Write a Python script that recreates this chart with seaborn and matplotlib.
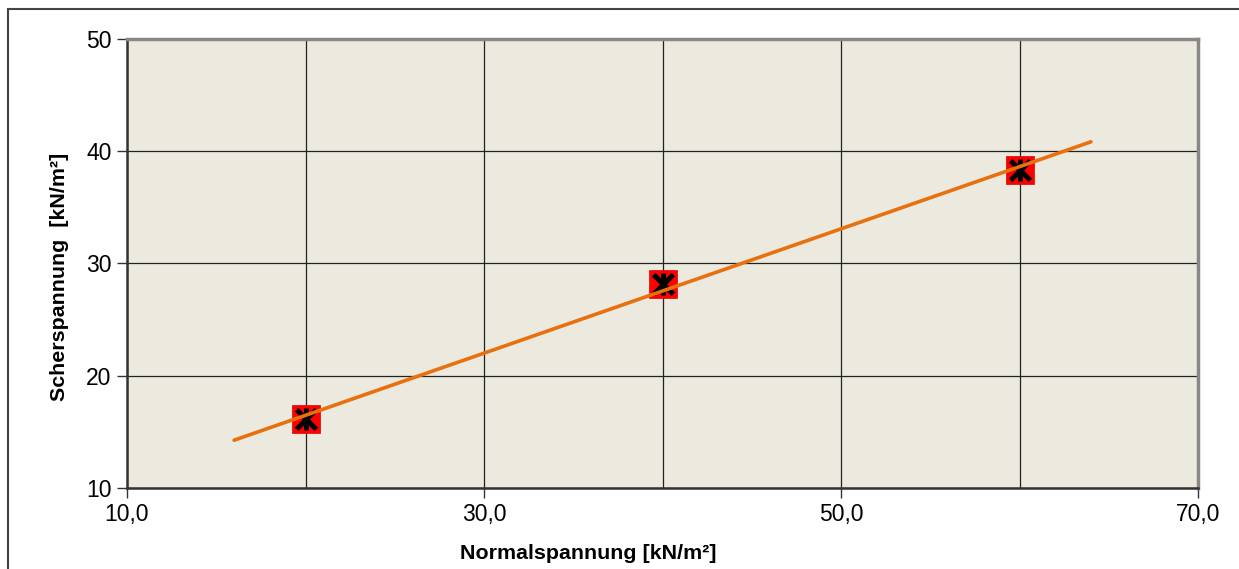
import numpy as np
import pandas as pd
import seaborn as sns
import matplotlib.pyplot as plt
from matplotlib.patches import Rectangle
from matplotlib.ticker import FuncFormatter

# Messwerte (Normalspannung / Scherspannung)
normalspannung = [20, 40, 60]
scherspannung = [16.15, 28.2, 38.3]

# Trendlinie: Bereich der Linie
trend_x = [16, 64]

x_ticks = [10, 30, 50, 70]
y_ticks = [10, 20, 30, 40, 50]

sns.set_theme(style="white")
plt.rcParams['font.family'] = ['Liberation Sans', 'DejaVu Sans']

df = pd.DataFrame({"sigma": normalspannung, "tau": scherspannung})
k, d = np.polyfit(df["sigma"], df["tau"], 1)
df_trend = pd.DataFrame({"sigma": trend_x, "tau": [k * x + d for x in trend_x]})

fig = plt.figure(figsize=(12.39, 5.69), dpi=100)
ax = fig.add_axes([127 / 1239, 1 - 488 / 569, (1198 - 127) / 1239, (488 - 39) / 569])
ax.set_facecolor("#ECE9DF")

# Rahmen um das Diagramm
fig.patches.append(Rectangle((8 / 1239, -0.1), 1.2, 1 - 9 / 569 + 0.1,
                             transform=fig.transFigure, fill=False,
                             edgecolor="#444444", linewidth=1.5))

sns.scatterplot(data=df, x="sigma", y="tau", marker="s", s=380, color="#FF0000",
                edgecolor="#DD0000", linewidth=0.5, ax=ax, zorder=3)
sns.scatterplot(data=df, x="sigma", y="tau", marker="x", s=200, color="black",
                linewidth=3.6, ax=ax, zorder=4)
sns.scatterplot(data=df, x="sigma", y="tau", marker="|", s=230, color="black",
                linewidth=3.6, ax=ax, zorder=4)
sns.lineplot(data=df_trend, x="sigma", y="tau", color="#E8700F", linewidth=2.6,
             ax=ax, zorder=5)

ax.set_xlim(10, 70)
ax.set_ylim(10, 50)
ax.set_xticks(x_ticks)
ax.set_xticks([20, 40, 60], minor=True)
ax.set_yticks(y_ticks)
ax.xaxis.set_major_formatter(FuncFormatter(lambda v, p: f"{v:.1f}".replace(".", ",")))

ax.grid(True, which="both", color="#222222", linewidth=0.9)
ax.set_axisbelow(True)

ax.tick_params(axis="both", which="major", direction="out", length=7, width=1,
               color="#333333", labelsize=16.5, labelcolor="black", pad=4)
ax.tick_params(axis="x", which="minor", length=0)
ax.tick_params(bottom=True, left=True)

for side in ["left", "bottom"]:
    ax.spines[side].set_color("#333333")
    ax.spines[side].set_linewidth(1.8)
for side in ["top", "right"]:
    ax.spines[side].set_color("#888888")
    ax.spines[side].set_linewidth(2.5)

ax.set_xlabel("Normalspannung [kN/m²]", fontsize=15.4, fontweight="bold",
              color="black", labelpad=12)
ax.set_ylabel("Scherspannung  [kN/m²]", fontsize=15.4, fontweight="bold",
              color="black", labelpad=12)
ax.xaxis.set_label_coords(0.431, -0.125)
ax.yaxis.set_label_coords(-0.054, 0.47)

fig.savefig("out.png", dpi=100)
